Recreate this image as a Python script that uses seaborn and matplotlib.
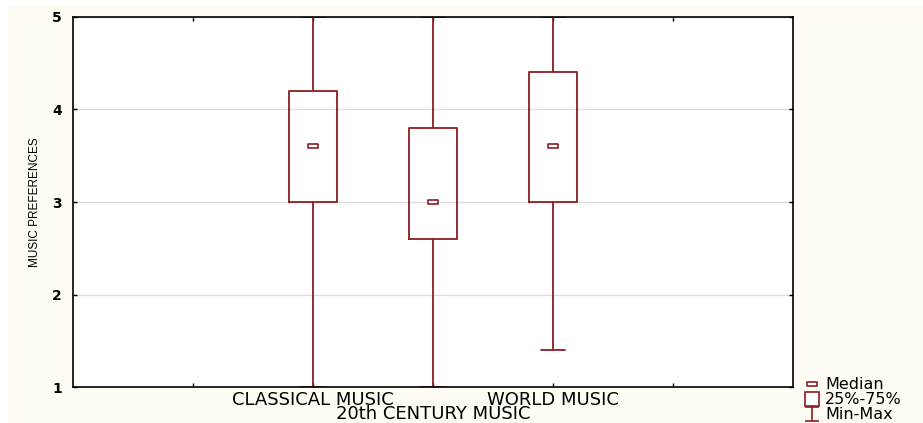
import numpy as np
import pandas as pd
import matplotlib
matplotlib.use("Agg")
import matplotlib.pyplot as plt
from matplotlib.path import Path
from matplotlib.lines import Line2D
from matplotlib.patches import Rectangle
import seaborn as sns

# Five-number summaries per group: min, Q1, median, Q3, max
groups = ["CLASSICAL MUSIC", "20th CENTURY MUSIC", "WORLD MUSIC"]
positions = [2, 3, 4]
mins = [1.0, 1.0, 1.4]
q1s = [3.0, 2.6, 3.0]
medians = [3.6, 3.0, 3.6]
q3s = [4.2, 3.8, 4.4]
maxs = [5.0, 5.0, 5.0]

tick_labels = ["CLASSICAL MUSIC", "WORLD MUSIC"]

RED = "#8C1C24"
WIDE = ["DejaVu Sans"]

sns.set_theme(style="white")
plt.rcParams["font.family"] = ["Liberation Sans", "DejaVu Sans"]
plt.rcParams["text.color"] = "black"
plt.rcParams["axes.labelcolor"] = "black"

# Five values per group reproduce the summary exactly with linear quartiles
rows = []
for pos, a, b, c, d, e in zip(positions, mins, q1s, medians, q3s, maxs):
    for v in (a, b, c, d, e):
        rows.append({"pos": pos, "value": v})
df = pd.DataFrame(rows)
med_df = pd.DataFrame({"pos": positions, "value": medians})

fig = plt.figure(figsize=(9.23, 4.23), dpi=100)
fig.patch.set_facecolor("white")
fig.patches.append(Rectangle((8 / 923, 0), 1, 417 / 423, transform=fig.transFigure,
                             facecolor="#FFFCF4", edgecolor="none", zorder=-10))
ax = fig.add_axes([73 / 923, 36 / 423, 720 / 923, 370 / 423])
ax.set_facecolor("white")

sns.boxplot(
    data=df, x="pos", y="value", native_scale=True, width=0.4, whis=np.inf,
    fill=False, color=RED, linewidth=1.3, showcaps=True,
    medianprops={"visible": False},
    capprops={"color": RED, "linewidth": 1.3},
    whiskerprops={"color": RED, "linewidth": 1.3},
    boxprops={"color": RED, "linewidth": 1.3},
    ax=ax,
)

# Small rectangular median marker
med_marker = Path([(-1, -0.5), (1, -0.5), (1, 0.5), (-1, 0.5), (-1, -0.5)],
                  [Path.MOVETO, Path.LINETO, Path.LINETO, Path.LINETO, Path.CLOSEPOLY])
sns.scatterplot(data=med_df, x="pos", y="value", marker=med_marker, s=50,
                facecolor="white", edgecolor=RED, linewidth=1.2, ax=ax, zorder=5,
                legend=False)

ax.set_xlim(0, 6)
ax.set_ylim(1, 5)
ax.set_yticks([1, 2, 3, 4, 5])
ax.set_yticklabels(["1", "2", "3", "4", "5"])
ax.set_xticks([1, 2, 3, 4, 5])
ax.set_xticklabels(["", tick_labels[0], "", tick_labels[1], ""])
ax.tick_params(axis="both", direction="in", length=3, width=1, colors="black",
               bottom=True, left=True, top=True, right=True)
ax.tick_params(axis="x", labelsize=13, pad=3)
ax.tick_params(axis="y", labelsize=10, pad=8)
for lab in ax.get_xticklabels():
    lab.set_family(WIDE)
for lab in ax.get_yticklabels():
    lab.set_fontweight("bold")
    lab.set_family(WIDE)
ax.grid(axis="y", color="#DCDCDC", linewidth=1)
ax.set_axisbelow(True)
for s in ax.spines.values():
    s.set_visible(True)
    s.set_color("black")
    s.set_linewidth(1.2)

ax.set_xlabel("20th CENTURY MUSIC", fontsize=13, labelpad=-3, family=WIDE)
ax.set_ylabel("MUSIC PREFERENCES", fontsize=8.5, labelpad=8,
              family=["Liberation Sans Narrow", "Liberation Sans", "DejaVu Sans"])

# Legend glyphs
minmax_marker = Path([(-1, 1), (1, 1), (0, 1), (0, -1), (-1, -1), (1, -1)],
                     [Path.MOVETO, Path.LINETO, Path.MOVETO, Path.LINETO,
                      Path.MOVETO, Path.LINETO])
handles = [
    Line2D([], [], linestyle="none", marker=med_marker, markersize=7,
           markerfacecolor="white", markeredgecolor=RED, markeredgewidth=1.2),
    Line2D([], [], linestyle="none", marker="s", markersize=10,
           markerfacecolor="white", markeredgecolor=RED, markeredgewidth=1.2),
    Line2D([], [], linestyle="none", marker=minmax_marker, markersize=10,
           markerfacecolor="none", markeredgecolor=RED, markeredgewidth=1.2),
]
leg = fig.legend(handles, ["Median", "25%-75%", "Min-Max"],
                 loc="lower left", bbox_to_anchor=(793 / 923, -0.025),
                 frameon=False, handlelength=1.0,
                 handletextpad=0.3, labelspacing=0.0, borderpad=0.2,
                 prop={"family": WIDE, "size": 11.5})

fig.savefig("out.png", dpi=100, facecolor=fig.get_facecolor())
